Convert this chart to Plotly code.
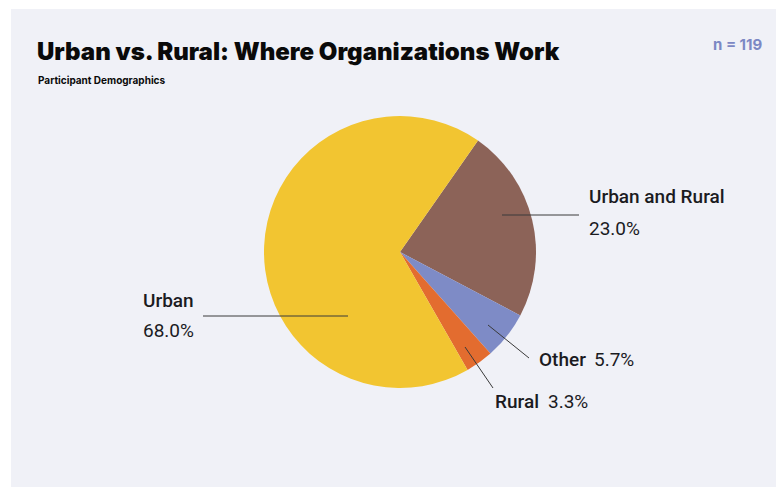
import plotly.graph_objects as go

# Survey breakdown: where organizations work
categories = ["Urban and Rural", "Other", "Rural", "Urban"]
shares = [23.0, 5.7, 3.3, 68.0]
colors = ["#8C6358", "#7E8BC6", "#E36C2F", "#F2C531"]
sample_size = 119

W, H = 776, 487
BG = "#F0F1F7"
INK = "#1B1B1F"


def px(x):
    return x / W


def py(y):
    return 1 - y / H


fig = go.Figure()

fig.add_trace(go.Pie(
    labels=categories,
    values=shares,
    marker=dict(colors=colors, line=dict(width=0)),
    sort=False,
    direction="clockwise",
    rotation=35,
    textinfo="none",
    hoverinfo="label+percent",
    showlegend=False,
    domain=dict(x=[px(264), px(536)], y=[py(388), py(116)]),
))

# Label placement for each slice: leader line (inner -> outer),
# name anchor and value anchor (x, y, xanchor)
label_layout = {
    "Urban and Rural": dict(line=((502, 215), (579, 215)),
                            name=(587, 197, "left"), value=(587, 228, "left")),
    "Other": dict(line=((488, 325), (529, 358)),
                  name=(537, 359, "left"), value=(592, 359, "left")),
    "Rural": dict(line=((465, 347), (493, 388)),
                  name=(493, 401, "left"), value=(546, 401, "left")),
    "Urban": dict(line=((348, 316), (203, 316)),
                  name=(196, 300, "right"), value=(196, 330, "right")),
}

shapes = [
    dict(type="rect", xref="paper", yref="paper", x0=px(11), x1=1, y0=0, y1=py(9),
         fillcolor=BG, line=dict(width=0), layer="below"),
]
annotations = []
name_font = dict(family="Roboto", size=19, color=INK, weight=500)
value_font = dict(family="Roboto", size=19, color=INK, weight=400)

for name, share in zip(categories, shares):
    spec = label_layout[name]
    (x0, y0), (x1, y1) = spec["line"]
    shapes.append(dict(type="line", xref="paper", yref="paper",
                       x0=px(x0), y0=py(y0), x1=px(x1), y1=py(y1),
                       line=dict(color="#3A3A3A", width=1)))
    for text, key, font in ((name, "name", name_font), (f"{share:.1f}%", "value", value_font)):
        tx, ty, anchor = spec[key]
        annotations.append(dict(
            x=px(tx), y=py(ty), xref="paper", yref="paper",
            xanchor=anchor, yanchor="middle",
            text=text, showarrow=False, font=font,
        ))

annotations += [
    dict(x=px(35), y=py(51), xref="paper", yref="paper", xanchor="left", yanchor="middle",
         text="Urban vs. Rural: Where Organizations Work", showarrow=False,
         font=dict(family="Inter", size=24, color="#0A0A0A", weight=900)),
    dict(x=px(36), y=py(81), xref="paper", yref="paper", xanchor="left", yanchor="middle",
         text="Participant Demographics", showarrow=False,
         font=dict(family="Inter", size=10, color="#0A0A0A", weight=700)),
    dict(x=px(765), y=py(45), xref="paper", yref="paper", xanchor="right", yanchor="middle",
         text=f"n = {sample_size}", showarrow=False,
         font=dict(family="Inter", size=15, color="#7C88C4", weight=700)),
]

fig.update_layout(
    width=W, height=H,
    margin=dict(l=0, r=0, t=0, b=0),
    paper_bgcolor="white",
    plot_bgcolor="white",
    shapes=shapes,
    annotations=annotations,
)

fig.write_html("out.html")
